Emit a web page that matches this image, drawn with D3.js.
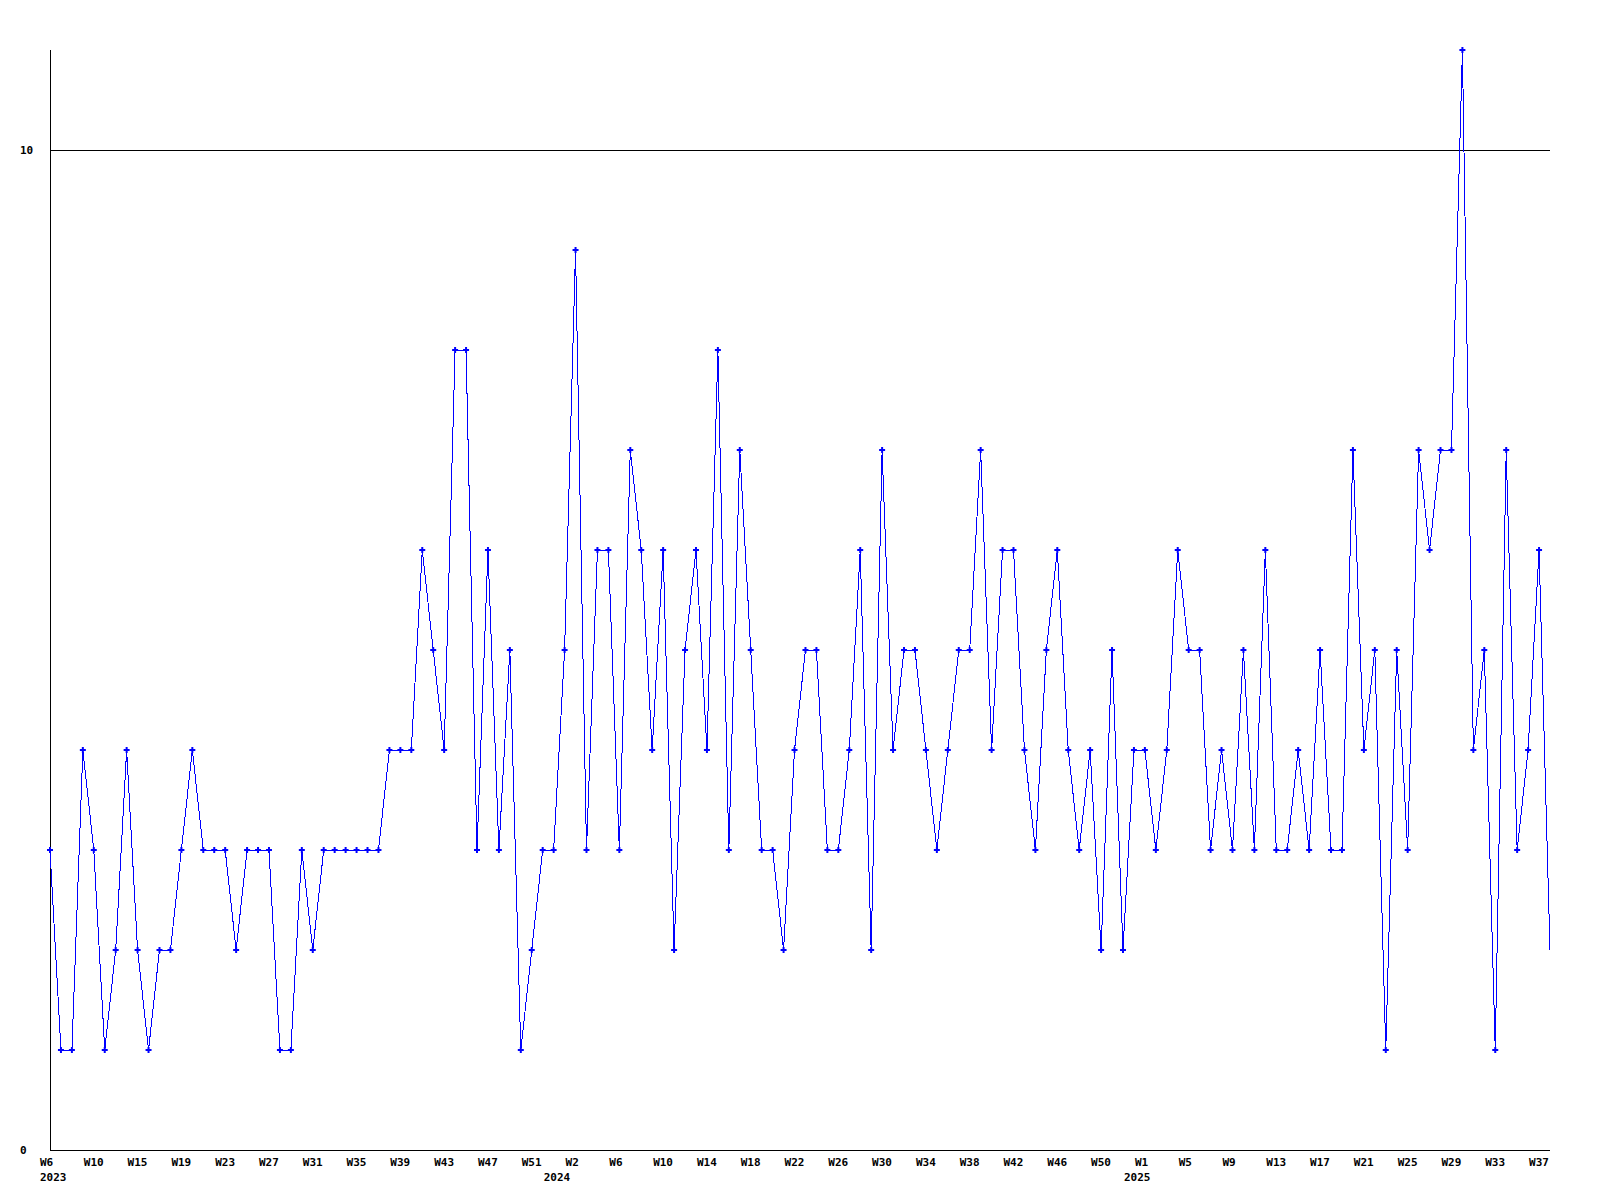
<!DOCTYPE html>
<html>
<head>
<meta charset="utf-8">
<script src="https://cdn.jsdelivr.net/npm/d3@7"></script>
<style>
  html, body { margin: 0; padding: 0; background: #ffffff; }
  svg { display: block; }
  text { font-family: "DejaVu Sans Mono", "Liberation Mono", monospace; font-weight: bold; font-size: 11px; fill: #000; }
</style>
</head>
<body>
<svg id="chart" width="1600" height="1200"></svg>
<script>
// ---- data ----
const values = [
  3,1,1,4,3,1,2,4,2,1,2,2,3,4,3,3,3,2,3,3,3,1,1,3,2,3,3,3,3,3,3,4,4,4,
  6,5,4,8,8,3,6,3,5,1,2,3,3,5,9,3,6,6,3,7,6,4,6,2,5,6,4,8,3,7,5,3,3,2,4,
  5,5,3,3,4,6,2,7,4,5,5,4,3,4,5,5,7,4,6,6,4,3,5,6,4,3,4,2,5,2,4,4,3,4,6,5,5,
  3,4,3,5,3,6,3,3,4,3,5,3,3,7,4,5,1,5,3,7,6,7,7,11,4,5,1,7,3,4,6,2
];
const weekLabels = ["W6","W10","W15","W19","W23","W27","W31","W35","W39","W43","W47","W51",
  "W2","W6","W10","W14","W18","W22","W26","W30","W34","W38","W42","W46","W50",
  "W1","W5","W9","W13","W17","W21","W25","W29","W33","W37"];
const weekLabelIndex = weekLabels.map((_, i) => i * 4);
const yearLabels = ["2023", "2024", "2025"];
const yearLabelIndex = [0, 46, 99];
const yTicks = [0, 10];
const yMax = 11;

// ---- layout ----
const mLeft = 50, mRight = 1550, mTop = 50, mBottom = 1150;
const svg = d3.select("#chart");

const x = d3.scaleLinear().domain([0, values.length - 1]).range([mLeft, mRight]);
const y = d3.scaleLinear().domain([0, yMax]).range([mBottom, mTop]);

// grid line(s) at non-zero ticks
svg.append("g").selectAll("line.grid")
  .data(yTicks.filter(d => d > 0))
  .join("line")
  .attr("x1", mLeft).attr("x2", mRight)
  .attr("y1", d => Math.round(y(d)) + 0.5).attr("y2", d => Math.round(y(d)) + 0.5)
  .attr("stroke", "#000").attr("stroke-width", 1).attr("shape-rendering", "crispEdges");

// axes lines
svg.append("line")
  .attr("x1", mLeft + 0.5).attr("x2", mLeft + 0.5).attr("y1", mTop).attr("y2", mBottom + 0.5)
  .attr("stroke", "#000").attr("shape-rendering", "crispEdges");
svg.append("line")
  .attr("x1", mLeft).attr("x2", mRight).attr("y1", mBottom + 0.5).attr("y2", mBottom + 0.5)
  .attr("stroke", "#000").attr("shape-rendering", "crispEdges");

// y labels
svg.append("g").selectAll("text")
  .data(yTicks)
  .join("text")
  .attr("x", 20)
  .attr("y", d => y(d) + 4)
  .text(d => d);

// x week labels
svg.append("g").selectAll("text")
  .data(weekLabels)
  .join("text")
  .attr("x", (d, i) => x(weekLabelIndex[i]) - 10)
  .attr("y", mBottom + 16)
  .text(d => d);

// year labels
svg.append("g").selectAll("text")
  .data(yearLabels)
  .join("text")
  .attr("x", (d, i) => x(yearLabelIndex[i]) - 10)
  .attr("y", mBottom + 31)
  .text(d => d);

// line
const line = d3.line().x((d, i) => x(i)).y(d => y(d));
svg.append("path")
  .datum(values)
  .attr("d", line)
  .attr("fill", "none")
  .attr("stroke", "#0000ff")
  .attr("stroke-width", 1)
  .attr("shape-rendering", "crispEdges");

// markers (last, incomplete point has none)
const cross = d3.symbol().type(d3.symbolCross).size(20);
svg.append("g").selectAll("path")
  .data(values.slice(0, -1))
  .join("path")
  .attr("transform", (d, i) => `translate(${x(i)},${y(d)})`)
  .attr("d", cross)
  .attr("fill", "#0000ff");
</script>
</body>
</html>
